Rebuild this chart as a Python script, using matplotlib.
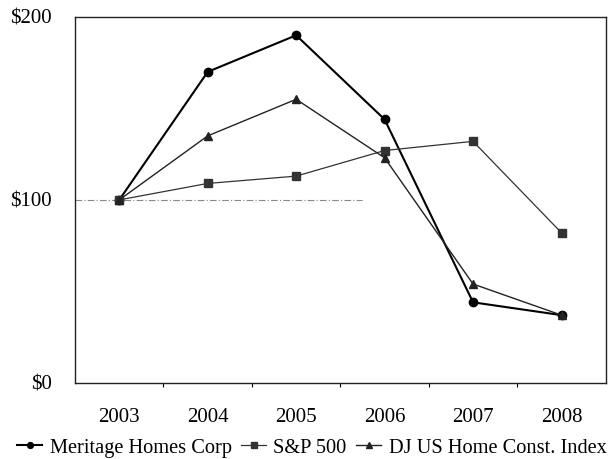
import numpy as np
import matplotlib.pyplot as plt
from matplotlib.ticker import FixedLocator

# datos
years = ["2003", "2004", "2005", "2006", "2007", "2008"]
meritage = [100, 170, 190, 144, 44, 37]
sp500 = [100, 109, 113, 127, 132, 82]
dj_home = [100, 135, 155, 123, 54, 37]

plt.rcParams['font.family'] = ['Liberation Serif', 'DejaVu Serif']

fig = plt.figure(figsize=(6.10, 4.59), dpi=100)
ax = fig.add_axes([0.123, 0.166, 0.870, 0.797])

x = np.arange(len(years))

# linea de referencia en $100 (solo visible en parte, como en el original)
ax.axhline(100, xmin=0, xmax=0.54, color='#888888', lw=0.8,
           linestyle=(0, (6, 2, 1, 2)), zorder=1)

ax.plot(x, meritage, color='black', lw=1.5, marker='o', markersize=6,
        label='Meritage Homes Corp', zorder=3)
ax.plot(x, sp500, color='#333333', lw=0.9, marker='s', markersize=6,
        label='S&P 500', zorder=3)
ax.plot(x, dj_home, color='#222222', lw=1.0, marker='^', markersize=6,
        label='DJ US Home Const. Index', zorder=3)

ax.set_xlim(-0.5, len(years) - 0.5)
ax.set_ylim(0, 200)
ax.set_xticks(x)
ax.set_xticklabels(years)
ax.xaxis.set_minor_locator(FixedLocator(np.arange(0.5, len(years) - 0.5, 1)))
ax.set_yticks([0, 100, 200])
ax.set_yticklabels(["$0", "$100", "$200"])

ax.tick_params(axis='both', which='major', length=0, labelsize=15)
ax.tick_params(axis='x', which='major', pad=18)
ax.tick_params(axis='y', which='major', pad=16.5)
ax.tick_params(axis='x', which='minor', length=3, direction='out', width=0.8)

for s in ax.spines.values():
    s.set_linewidth(1.0)
    s.set_color('#222222')

ax.legend(loc='center', bbox_to_anchor=(0.446, -0.178), ncol=3,
          frameon=False, fontsize=14.7, handlelength=1.25, handletextpad=0.35,
          columnspacing=0.45, markerscale=0.7, borderaxespad=0, borderpad=0)

fig.savefig("out.png", dpi=100)
